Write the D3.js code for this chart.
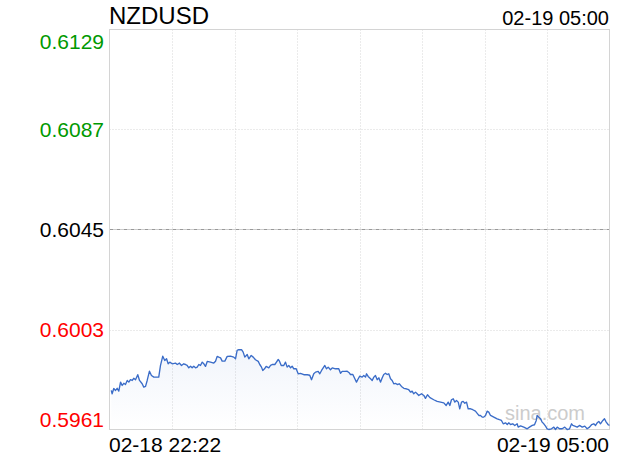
<!DOCTYPE html>
<html><head><meta charset="utf-8">
<script src="https://cdn.jsdelivr.net/npm/d3@7"></script>
<style>html,body{margin:0;padding:0;background:#fff;}svg{display:block;font-family:"Liberation Sans",Arial,sans-serif;}</style>
</head><body>
<svg id="c" width="620" height="460"></svg>
<script>
const symbol = "NZDUSD";
const stamp = "02-19 05:00";
const xLabels = ["02-18 22:22", "02-19 05:00"];
const yTicks = [0.6129, 0.6087, 0.6045, 0.6003, 0.5961];
const yColors = ["#009900", "#009900", "#000000", "#ff0000", "#ff0000"];
const prevClose = 0.6045;
// minutes after 02-18 22:22
const minutes = [1.4,2.1,3.4,4.8,6.1,7.4,8.8,10.1,11.4,12.7,14.1,15.4,16.7,18.1,19.3,20.7,22.5,23.9,26.0,27.3,28.7,30.0,31.8,33.4,35.3,38.0,39.2,40.6,42.4,44.0,45.4,46.7,48.0,49.9,52.5,53.9,55.7,57.3,59.1,60.5,61.8,63.1,64.5,65.8,67.1,68.5,69.8,71.1,72.4,73.8,75.1,76.4,77.8,80.4,83.0,84.4,85.7,87.0,88.4,89.7,91.8,93.7,96.3,98.9,100.3,101.6,102.9,105.1,106.4,107.7,109.6,110.9,112.8,114.4,116.2,118.4,119.6,121.0,122.0,123.4,124.7,126.8,128.2,129.5,131.6,132.9,134.3,135.3,136.7,138.7,140.1,141.4,142.7,144.1,145.4,146.7,148.6,150.2,152.0,154.7,157.4,159.4,160.8,162.6,164.0,166.1,167.4,168.8,170.1,171.4,172.7,174.1,175.9,177.3,179.9,182.5,183.9,185.2,187.3,189.2,191.0,191.8,193.7,195.3,196.6,198.0,199.2,201.1,202.4,203.8,204.6,205.9,207.8,209.1,210.4,211.7,213.1,214.4,215.7,217.1,218.3,219.7,221.0,222.3,223.7,225.0,226.3,227.7,229.0,230.8,232.4,234.3,236.2,238.2,239.6,240.9,242.2,243.6,244.9,246.2,248.4,250.2,251.5,253.1,255.1,258.1,260.8,263.5,266.1,268.0,269.6,270.9,272.2,273.6,274.9,276.2,277.6,278.8,280.2,281.5,282.8,284.2,285.5,287.4,289.2,291.3,292.7,294.0,295.3,296.7,297.9,299.3,300.6,301.9,303.3,305.9,308.6,310.4,312.0,313.4,315.2,316.6,317.8,319.2,321.0,322.6,324.5,325.3,327.2,329.8,332.5,334.3,336.5,338.3,339.7,340.4,341.7,343.1,344.4,345.7,347.1,348.4,349.7,351.8,353.7,355.0,356.4,358.2,360.3,362.4,364.3,366.2,367.8,368.8,370.4,372.3,374.1,376.3,378.3,380.2,382.1,383.7,385.5,386.9,388.2,389.5,390.8,392.7,394.0,395.4,397.0,398.0];
const prices = [0.59774,0.59760,0.59782,0.59774,0.59783,0.59771,0.59809,0.59795,0.59804,0.59799,0.59816,0.59809,0.59819,0.59816,0.59825,0.59819,0.59840,0.59816,0.59802,0.59788,0.59791,0.59816,0.59855,0.59837,0.59830,0.59830,0.59830,0.59879,0.59918,0.59900,0.59907,0.59886,0.59893,0.59886,0.59889,0.59883,0.59889,0.59879,0.59886,0.59883,0.59879,0.59869,0.59876,0.59869,0.59876,0.59869,0.59872,0.59883,0.59879,0.59893,0.59886,0.59875,0.59896,0.59893,0.59889,0.59897,0.59917,0.59914,0.59911,0.59897,0.59897,0.59917,0.59918,0.59914,0.59907,0.59942,0.59945,0.59945,0.59935,0.59914,0.59925,0.59907,0.59921,0.59914,0.59903,0.59896,0.59883,0.59872,0.59858,0.59865,0.59875,0.59869,0.59879,0.59883,0.59883,0.59893,0.59904,0.59897,0.59879,0.59879,0.59893,0.59872,0.59879,0.59869,0.59876,0.59865,0.59865,0.59844,0.59846,0.59840,0.59840,0.59838,0.59819,0.59844,0.59851,0.59854,0.59844,0.59858,0.59869,0.59879,0.59865,0.59872,0.59861,0.59869,0.59865,0.59865,0.59846,0.59854,0.59854,0.59855,0.59847,0.59841,0.59841,0.59823,0.59809,0.59823,0.59834,0.59830,0.59837,0.59830,0.59844,0.59833,0.59823,0.59816,0.59830,0.59837,0.59819,0.59827,0.59809,0.59827,0.59841,0.59846,0.59841,0.59844,0.59823,0.59816,0.59802,0.59804,0.59799,0.59802,0.59791,0.59783,0.59781,0.59777,0.59767,0.59771,0.59760,0.59767,0.59760,0.59753,0.59760,0.59753,0.59741,0.59756,0.59744,0.59735,0.59728,0.59725,0.59722,0.59711,0.59725,0.59711,0.59735,0.59739,0.59725,0.59732,0.59725,0.59697,0.59725,0.59728,0.59720,0.59725,0.59697,0.59697,0.59693,0.59687,0.59678,0.59669,0.59669,0.59662,0.59662,0.59669,0.59687,0.59683,0.59669,0.59662,0.59655,0.59651,0.59648,0.59634,0.59638,0.59631,0.59638,0.59631,0.59634,0.59627,0.59634,0.59620,0.59625,0.59620,0.59613,0.59620,0.59627,0.59630,0.59648,0.59669,0.59662,0.59655,0.59641,0.59634,0.59624,0.59613,0.59610,0.59613,0.59620,0.59610,0.59620,0.59613,0.59613,0.59620,0.59610,0.59613,0.59634,0.59627,0.59624,0.59620,0.59627,0.59620,0.59624,0.59613,0.59620,0.59630,0.59634,0.59627,0.59638,0.59644,0.59634,0.59648,0.59655,0.59641,0.59630,0.59627];
const totalMinutes = 398;
const columns = 8;

const svg = d3.select("#c");
const L = 109.5, R = 609.5, T = 29.5, B = 429.5;
const x = d3.scaleLinear().domain([0, totalMinutes]).range([L, R]);
const y = d3.scaleLinear().domain([yTicks[yTicks.length-1], yTicks[0]]).range([B, T]);
const col = d3.scaleLinear().domain([0, columns]).range([L, R]);

const defs = svg.append("defs");
const g = defs.append("linearGradient").attr("id","fillg").attr("x1",0).attr("y1",0).attr("x2",0).attr("y2",1);
g.append("stop").attr("offset","0%").attr("stop-color","#3d6fc9").attr("stop-opacity",0.07);
g.append("stop").attr("offset","100%").attr("stop-color","#3d6fc9").attr("stop-opacity",0.0);

// grid verticals
svg.append("g").selectAll("line").data(d3.range(1, columns)).join("line")
  .attr("x1", d => Math.round(col(d)) + 0.5).attr("x2", d => Math.round(col(d)) + 0.5)
  .attr("y1", T).attr("y2", B)
  .attr("stroke", "#d6d6d6").attr("stroke-dasharray", "1,2");
// grid horizontals
svg.append("g").selectAll("line").data(yTicks.slice(1, -1)).join("line")
  .attr("x1", L).attr("x2", R)
  .attr("y1", d => Math.round(y(d)) + 0.5).attr("y2", d => Math.round(y(d)) + 0.5)
  .attr("stroke", d => d === prevClose ? "#999" : "#d6d6d6")
  .attr("stroke-dasharray", d => d === prevClose ? "4,1,1,1" : "1,2");

// frame
svg.append("rect").attr("x", L).attr("y", T).attr("width", R - L).attr("height", B - T)
  .attr("fill", "none").attr("stroke", "#d4d4d4");

// watermark
svg.append("text").attr("x", 585).attr("y", 420).attr("text-anchor", "end")
  .attr("font-size", 20).attr("fill", "#cccccc").text("sina.com");

const pts = minutes.map((m, i) => [m, prices[i]]);
const area = d3.area().x(d => x(d[0])).y0(B).y1(d => y(d[1]));
const line = d3.line().x(d => x(d[0])).y(d => y(d[1]));
svg.append("path").datum(pts).attr("d", area).attr("fill", "url(#fillg)");
svg.append("path").datum(pts).attr("d", line).attr("fill", "none")
  .attr("stroke", "#3a6cc8").attr("stroke-width", 1.35).attr("stroke-linejoin", "round");

// y labels
svg.append("g").selectAll("text").data(yTicks).join("text")
  .attr("x", 104).attr("text-anchor", "end").attr("font-size", 21)
  .attr("fill", (d, i) => yColors[i])
  .attr("y", (d, i) => i === 0 ? y(d) + 19 : (i === yTicks.length - 1 ? y(d) - 3 : y(d) + 7.5))
  .text(d => d.toFixed(4));

// title & stamp
svg.append("text").attr("x", 109).attr("y", 24).attr("font-size", 24).attr("fill", "#000").text(symbol);
svg.append("text").attr("x", 609).attr("y", 25).attr("text-anchor", "end").attr("font-size", 20).attr("fill", "#000").text(stamp);

// x labels
svg.append("text").attr("x", 109).attr("y", 452).attr("font-size", 21).attr("fill", "#000").text(xLabels[0]);
svg.append("text").attr("x", 609).attr("y", 452).attr("text-anchor", "end").attr("font-size", 21).attr("fill", "#000").text(xLabels[1]);
</script>
</body></html>
